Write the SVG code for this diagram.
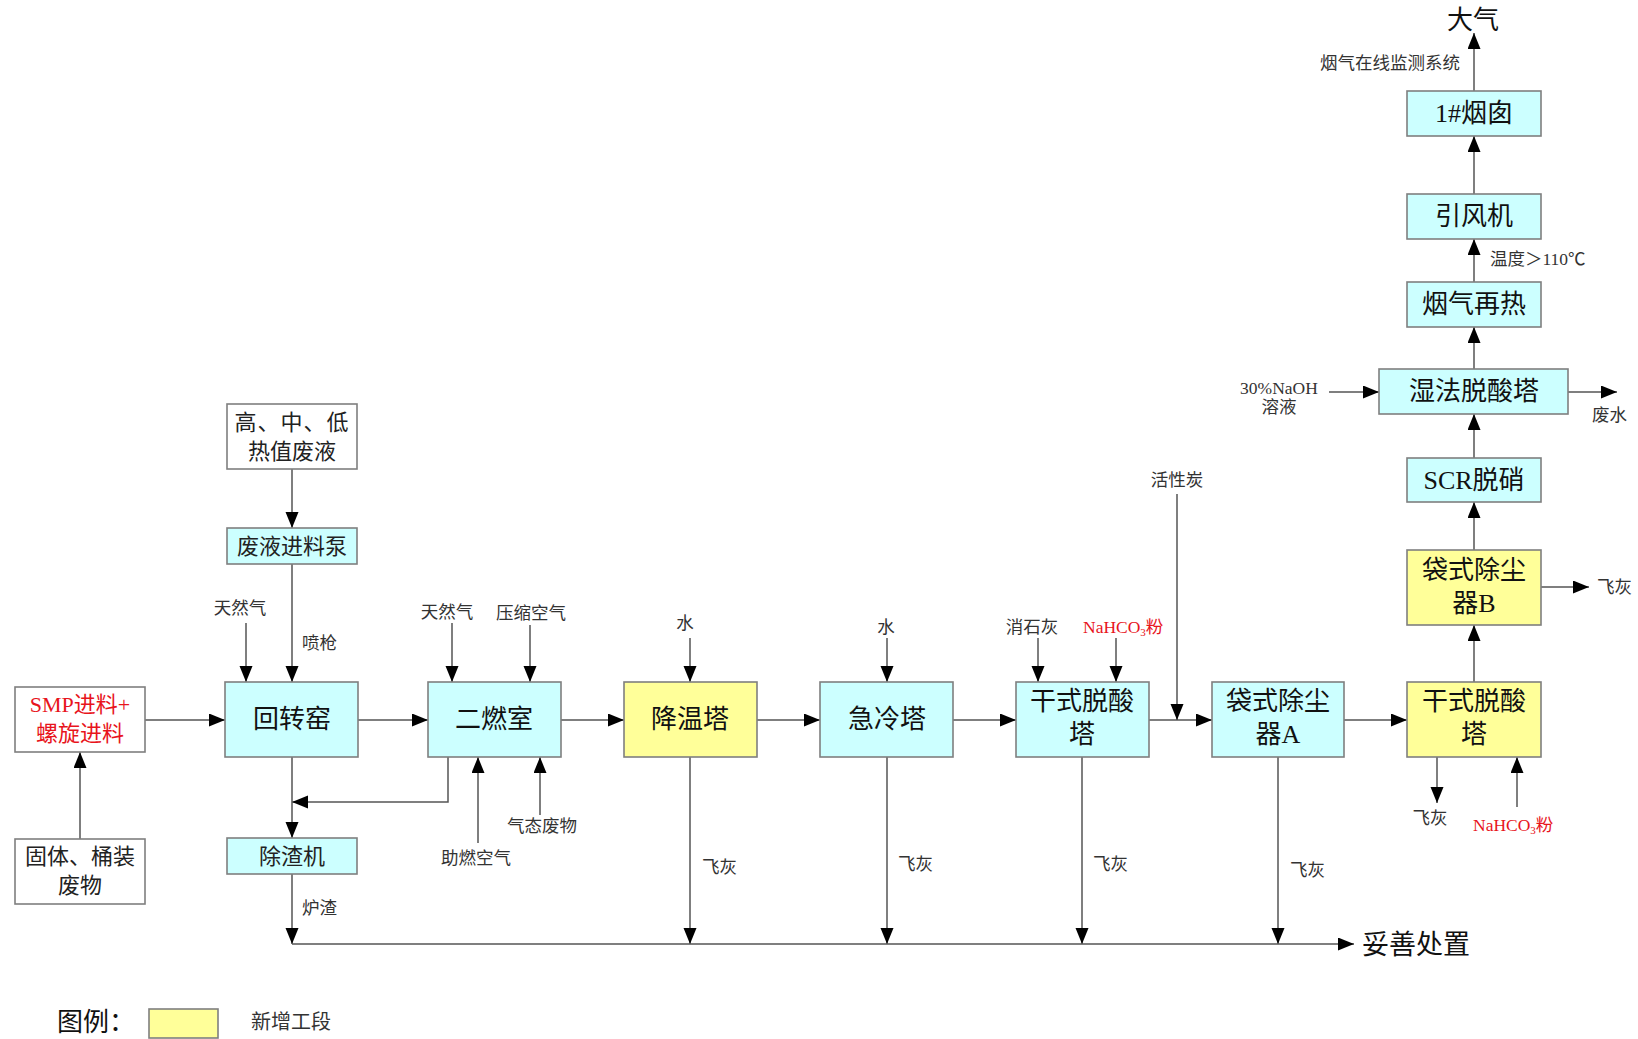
<svg xmlns="http://www.w3.org/2000/svg" width="1638" height="1039" viewBox="0 0 1638 1039">
<style>
text{font-family:"Liberation Serif","Noto Sans CJK SC",serif;dominant-baseline:central}
.box{stroke:#7f7f7f;stroke-width:1.6}
.w{fill:#ffffff}
.c{fill:#ccffff}
.y{fill:#ffff99}
.bt{font-size:26px;fill:#111;text-anchor:middle}
.st{font-size:22px;fill:#222;text-anchor:middle}
.lb{font-size:17.5px;fill:#333}
.mid{text-anchor:middle}
.red{fill:#e8141c}
.ln{fill:none;stroke:#555;stroke-width:1.5}
.arr{marker-end:url(#ah)}
</style>
<defs>
<marker id="ah" markerUnits="userSpaceOnUse" markerWidth="17" markerHeight="14" refX="16" refY="6.5" orient="auto">
<path d="M0,0 L16,6.5 L0,13 z" fill="#000"/>
</marker>
</defs>
<rect width="1638" height="1039" fill="#fff"/>

<g id="connectors">
<path class="ln arr" d="M292,469 V528"/>
<path class="ln arr" d="M292,564 V682"/>
<path class="ln arr" d="M246,623 V682"/>
<path class="ln arr" d="M80,839 V752"/>
<path class="ln arr" d="M145,720 H225"/>
<path class="ln arr" d="M358,720 H428"/>
<path class="ln arr" d="M452,623 V682"/>
<path class="ln arr" d="M530,625 V682"/>
<path class="ln arr" d="M448,757 V802 H292"/>
<path class="ln arr" d="M292,757 V838"/>
<path class="ln arr" d="M478,843 V757"/>
<path class="ln arr" d="M540,815 V757"/>
<path class="ln arr" d="M561,720 H624"/>
<path class="ln arr" d="M690,638 V682"/>
<path class="ln arr" d="M757,720 H820"/>
<path class="ln arr" d="M887,638 V682"/>
<path class="ln arr" d="M953,720 H1016"/>
<path class="ln arr" d="M1038,638 V682"/>
<path class="ln arr" d="M1116,638 V682"/>
<path class="ln arr" d="M1149,720 H1212"/>
<path class="ln arr" d="M1177,494 V720"/>
<path class="ln arr" d="M1344,720 H1407"/>
<path class="ln arr" d="M1437,757 V803"/>
<path class="ln arr" d="M1517,807 V757"/>
<path class="ln arr" d="M1474,682 V625"/>
<path class="ln arr" d="M1541,587 H1589"/>
<path class="ln arr" d="M1474,550 V502"/>
<path class="ln arr" d="M1474,458 V414"/>
<path class="ln arr" d="M1329,392 H1379"/>
<path class="ln arr" d="M1568,392 H1617"/>
<path class="ln arr" d="M1474,369 V327"/>
<path class="ln arr" d="M1474,282 V239"/>
<path class="ln arr" d="M1474,194 V136"/>
<path class="ln arr" d="M1474,91 V33"/>
<path class="ln arr" d="M292,874 V944"/>
<path class="ln arr" d="M690,757 V944"/>
<path class="ln arr" d="M887,757 V944"/>
<path class="ln arr" d="M1082,757 V944"/>
<path class="ln arr" d="M1278,757 V944"/>
<path class="ln arr" d="M292,944 H1354"/>
</g>

<g id="n-waste-liquid"><rect class="box w" x="227" y="404" width="130" height="65"/><text class="st" x="292" y="422" letter-spacing="1">高、中、低</text><text class="st" x="292" y="451">热值废液</text></g>
<g id="n-pump"><rect class="box c" x="227" y="528" width="130" height="36"/><text class="st" x="292" y="546">废液进料泵</text></g>
<g id="n-smp"><rect class="box w" x="15" y="687" width="130" height="65"/><text class="st red" x="80" y="704">SMP进料+</text><text class="st red" x="80" y="733">螺旋进料</text></g>
<g id="n-solid"><rect class="box w" x="15" y="839" width="130" height="65"/><text class="st" x="80" y="856">固体、桶装</text><text class="st" x="80" y="885">废物</text></g>
<g id="n-kiln"><rect class="box c" x="225" y="682" width="133" height="75"/><text class="bt" x="292" y="719">回转窑</text></g>
<g id="n-slag"><rect class="box c" x="227" y="838" width="130" height="36"/><text class="st" x="292" y="856">除渣机</text></g>
<g id="n-sec"><rect class="box c" x="428" y="682" width="133" height="75"/><text class="bt" x="494" y="719">二燃室</text></g>
<g id="n-cool"><rect class="box y" x="624" y="682" width="133" height="75"/><text class="bt" x="690" y="719">降温塔</text></g>
<g id="n-quench"><rect class="box c" x="820" y="682" width="133" height="75"/><text class="bt" x="887" y="719">急冷塔</text></g>
<g id="n-dry1"><rect class="box c" x="1016" y="682" width="133" height="75"/><text class="bt" x="1082" y="701">干式脱酸</text><text class="bt" x="1082" y="734">塔</text></g>
<g id="n-bagA"><rect class="box c" x="1212" y="682" width="132" height="75"/><text class="bt" x="1278" y="701">袋式除尘</text><text class="bt" x="1278" y="734">器A</text></g>
<g id="n-dry2"><rect class="box y" x="1407" y="682" width="134" height="75"/><text class="bt" x="1474" y="701">干式脱酸</text><text class="bt" x="1474" y="734">塔</text></g>
<g id="n-bagB"><rect class="box y" x="1407" y="550" width="134" height="75"/><text class="bt" x="1474" y="570">袋式除尘</text><text class="bt" x="1474" y="603">器B</text></g>
<g id="n-scr"><rect class="box c" x="1407" y="458" width="134" height="44"/><text class="bt" x="1474" y="480">SCR脱硝</text></g>
<g id="n-wet"><rect class="box c" x="1379" y="369" width="189" height="45"/><text class="bt" x="1474" y="391">湿法脱酸塔</text></g>
<g id="n-reheat"><rect class="box c" x="1407" y="282" width="134" height="45"/><text class="bt" x="1474" y="304">烟气再热</text></g>
<g id="n-fan"><rect class="box c" x="1407" y="194" width="134" height="45"/><text class="bt" x="1474" y="216">引风机</text></g>
<g id="n-stack"><rect class="box c" x="1407" y="91" width="134" height="45"/><text class="bt" x="1474" y="113">1#烟囱</text></g>

<g id="labels">
<text class="lb mid" x="240" y="608">天然气</text>
<text class="lb" x="302" y="643">喷枪</text>
<text class="lb mid" x="447" y="612">天然气</text>
<text class="lb mid" x="531" y="613">压缩空气</text>
<text class="lb mid" x="476" y="858">助燃空气</text>
<text class="lb mid" x="542" y="826">气态废物</text>
<text class="lb" x="302" y="908">炉渣</text>
<text class="lb mid" x="685" y="623">水</text>
<text class="lb mid" x="886" y="627">水</text>
<text class="lb mid" x="1032" y="627">消石灰</text>
<text class="lb red" x="1083" y="627">NaHCO<tspan font-size="11" dy="5">3</tspan><tspan dy="-5">粉</tspan></text>
<text class="lb mid" x="1177" y="480">活性炭</text>
<text class="lb" x="702" y="867">飞灰</text>
<text class="lb" x="898" y="864">飞灰</text>
<text class="lb" x="1093" y="864">飞灰</text>
<text class="lb" x="1290" y="870">飞灰</text>
<text class="lb mid" x="1430" y="818">飞灰</text>
<text class="lb red" x="1473" y="825">NaHCO<tspan font-size="11" dy="5">3</tspan><tspan dy="-5">粉</tspan></text>
<text class="lb" x="1597" y="587">飞灰</text>
<text class="lb mid" x="1279" y="388">30%NaOH</text>
<text class="lb mid" x="1279" y="407">溶液</text>
<text class="lb" x="1592" y="415">废水</text>
<text class="lb" x="1490" y="259">温度＞110℃</text>
<text class="lb mid" x="1390" y="63" font-size="18">烟气在线监测系统</text>
<text x="1473" y="20" font-size="26" fill="#111" text-anchor="middle">大气</text>
<text x="1362" y="945" font-size="27" fill="#111">妥善处置</text>
</g>

<g id="legend">
<text x="57" y="1022" font-size="26" fill="#111">图例：</text>
<rect class="box y" x="149" y="1009" width="69" height="29"/>
<text x="251" y="1022" font-size="20" fill="#333">新增工段</text>
</g>
</svg>
